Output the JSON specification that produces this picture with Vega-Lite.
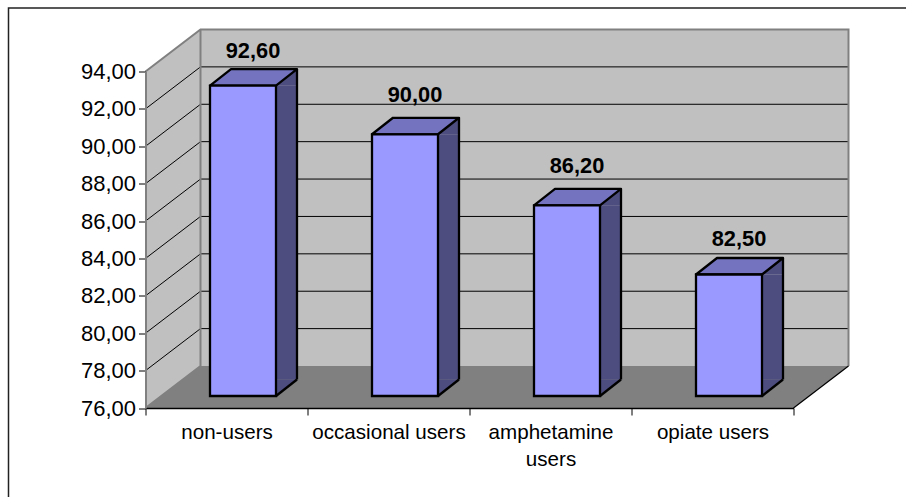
{
"$schema":"https://vega.github.io/schema/vega-lite/v6.json",
"width":648,"height":336.5,
"autosize":"none",
"padding":{"left":145.5,"top":71.5,"right":112.5,"bottom":89},
"background":"white",
"config":{"view":{"stroke":null},"font":"Liberation Sans"},
"datasets":{
"bars":[
{"group":"non-users","value":92.6,"label":"92,60","lift":"low"},
{"group":"occasional users","value":90.0,"label":"90,00","lift":"high"},
{"group":"amphetamine users","value":86.2,"label":"86,20","lift":"high"},
{"group":"opiate users","value":82.5,"label":"82,50","lift":"low"}],
"floor":[
{"group":"non-users","value":76},
{"group":"occasional users","value":76},
{"group":"amphetamine users","value":76},
{"group":"opiate users","value":76}],
"grid":[{"value":78},{"value":80},{"value":82},{"value":84},{"value":86},{"value":88},{"value":90},{"value":92}],
"base":[{"value":76}]
},
"encoding":{
"x":{"field":"group","type":"nominal","sort":null,
"scale":{"type":"band","domain":["non-users","occasional users","amphetamine users","opiate users"],"paddingInner":0,"paddingOuter":0},
"axis":{"title":null,"labelAngle":0,"labelFontSize":20.6,"labelColor":"#000","labelPadding":7,"tickSize":7,"tickColor":"#000","tickWidth":1,"tickBand":"extent","domainColor":"#000","domainWidth":1.5,"grid":false,"zindex":1,"labelLineHeight":27,"labelBaseline":"top","labelOverlap":false,"labelBound":false,"labelLimit":300,
"labelExpr":"datum.label=='amphetamine users'?['amphetamine','users']:datum.label"}},
"y":{"field":"value","type":"quantitative","scale":{"domain":[76,94],"nice":false,"zero":false},
 "axis":{"title":null,"values":[76,78,80,82,84,86,88,90,92,94],"labelFontSize":22,"labelColor":"#000","labelPadding":3,"tickSize":7,"tickColor":"#000","tickWidth":1,"domainColor":"#808080","domainWidth":2,"grid":false,"zindex":1,"labelOverlap":false,"labelBound":false,"labelFlush":false,"labelBaseline":"middle","labelExpr":"replace(format(datum.value,'.2f'),'.',',')"}}
},
"layer":[
{"data":{"name":"base"},"mark":{"type":"point","opacity":1,"size":4,"filled":true,"fill":"#c0c0c0","stroke":null,"shape":"M-81 -336.5L-26 -378.5L622 -378.5L622 -42L567 0L-81 0Z"},
 "encoding":{"x":{"datum":"non-users"}}},
{"data":{"name":"base"},"mark":{"type":"point","opacity":1,"size":4,"filled":true,"fill":"#808080","stroke":null,"shape":"M-81 0L-26 -42L622 -42L567 0Z"},
 "encoding":{"x":{"datum":"non-users"}}},
{"data":{"name":"grid"},"mark":{"type":"point","opacity":1,"size":4,"filled":false,"fill":"none","stroke":"#000","strokeWidth":1,"shape":"M-81 0L-26 -42L622 -42"},
 "encoding":{"x":{"datum":"non-users"}}},
{"data":{"name":"base"},"mark":{"type":"point","opacity":1,"size":4,"filled":false,"fill":"none","stroke":"#808080","strokeWidth":2,"shape":"M-81 -336.5L-26 -378.5L622 -378.5L622 -42M-26 -378.5L-26 -42L-81 0"},
 "encoding":{"x":{"datum":"non-users"}}},
{"data":{"name":"base"},"mark":{"type":"point","opacity":1,"size":4,"filled":false,"fill":"none","stroke":"#000","strokeWidth":1.2,"shape":"M567 0L622 -42"},
 "encoding":{"x":{"datum":"non-users"}}},
{"data":{"name":"base"},"mark":{"type":"point","opacity":1,"size":4,"filled":false,"fill":"none","stroke":"#222","strokeWidth":1.5,"shape":"M-218 100L-218 -400L690 -400"},
 "encoding":{"x":{"datum":"non-users"}}},
{"data":{"name":"bars"},"mark":{"type":"bar","size":21,"xOffset":60,"yOffset":-12,"y2Offset":-28.5,"fill":"#4d4d80","stroke":null},
 "encoding":{"y2":{"datum":76}}},
{"data":{"name":"bars"},"mark":{"type":"point","opacity":1,"size":4,"filled":true,"fill":"#4d4d80","stroke":null,"shape":"M49.5 -12L70.5 -28.5L70.5 -12Z"}},
{"data":{"name":"floor"},"mark":{"type":"point","opacity":1,"size":4,"filled":true,"fill":"#4d4d80","stroke":null,"shape":"M49.5 -12L70.5 -28.5L49.5 -28.5Z"}},
{"data":{"name":"bars"},"mark":{"type":"point","opacity":1,"size":4,"filled":true,"fill":"#7373bf","stroke":"#000","strokeWidth":2.3,"strokeJoin":"round","shape":"M-16.5 -12L4.5 -28.5L70.5 -28.5L49.5 -12Z"}},
{"data":{"name":"floor"},"mark":{"type":"point","opacity":1,"size":4,"filled":false,"fill":"none","stroke":"#000","strokeWidth":2.3,"shape":"M49.5 -12L70.5 -28.5"}},
{"data":{"name":"bars"},"mark":{"type":"rule","xOffset":70.5,"yOffset":-28.5,"y2Offset":-28.5,"stroke":"#000","strokeWidth":2.3},
 "encoding":{"y2":{"datum":76}}},
{"data":{"name":"bars"},"mark":{"type":"bar","size":66,"xOffset":16.5,"yOffset":-12,"y2Offset":-12,"fill":"#9999ff","stroke":"#000","strokeWidth":2.3},
 "encoding":{"y2":{"datum":76}}},
{"data":{"name":"bars"},"transform":[{"filter":"datum.lift=='low'"}],"mark":{"type":"text","font":"Liberation Sans","fontWeight":"bold","fontSize":21.8,"dx":26.5,"dy":-47,"baseline":"middle","align":"center","color":"#000"},
 "encoding":{"text":{"field":"label"}}},
{"data":{"name":"bars"},"transform":[{"filter":"datum.lift=='high'"}],"mark":{"type":"text","font":"Liberation Sans","fontWeight":"bold","fontSize":21.8,"dx":26.5,"dy":-51,"baseline":"middle","align":"center","color":"#000"},
 "encoding":{"text":{"field":"label"}}}
]
}
